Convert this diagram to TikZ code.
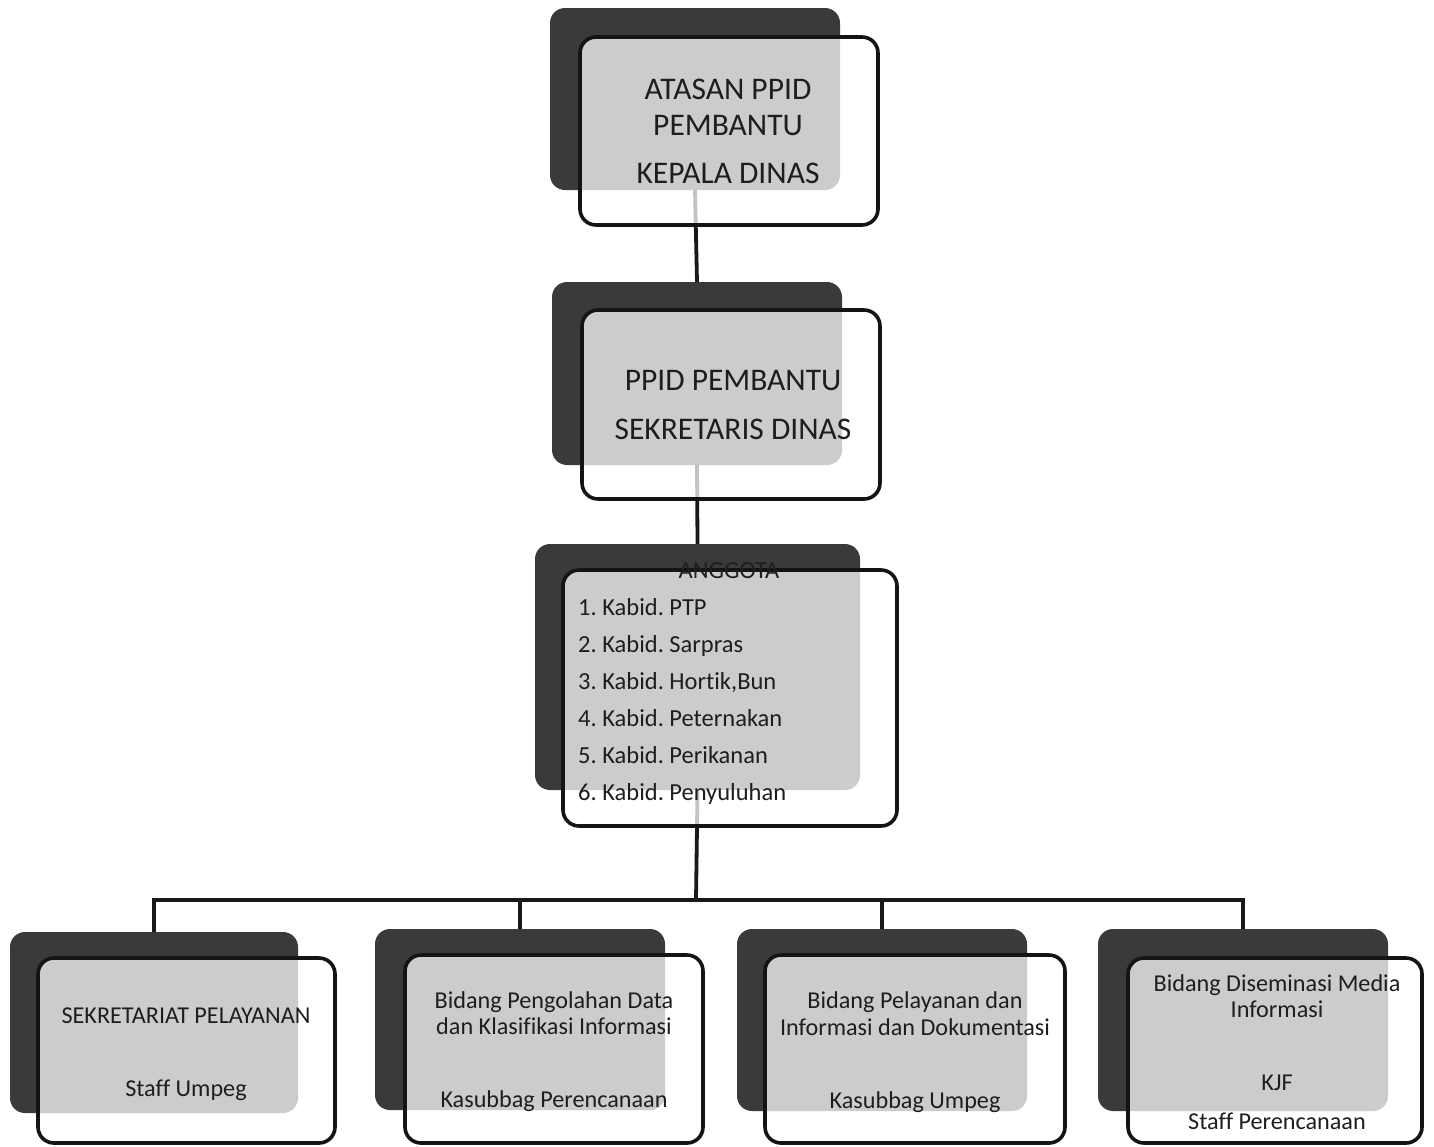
\documentclass[tikz,border=0pt]{standalone}
\usepackage{fontspec}
\setmainfont{Carlito}[Ligatures=NoCommon]
\frenchspacing
\definecolor{darkbox}{HTML}{3A3A3A}
\definecolor{txt}{HTML}{1E1E1E}
\tikzset{
  backbox/.style={draw=none, fill=darkbox, rounded corners=15pt, inner sep=0pt},
  frontbox/.style={draw=black!92, line width=3.6pt, fill=white, fill opacity=0.74, text opacity=1, rounded corners=16pt, inner sep=0pt},
  link/.style={line width=3.8pt, black!90},
  bigtxt/.style={text=txt, align=center, inner sep=0pt, font=\fontsize{31.5}{36}\selectfont},
  listtxt/.style={text=txt, align=left, inner sep=0pt, font=\fontsize{24.5}{37}\selectfont},
  smalltxt/.style={text=txt, align=center, inner sep=0pt, font=\fontsize{24.2}{26.5}\selectfont}
}
\begin{document}
\begin{tikzpicture}[x=1pt, y=-1pt]
\useasboundingbox (0,0) rectangle (1434,1146);
\fill[white] (0,0) rectangle (1434,1146);

% back boxes
\node[backbox, minimum width=290pt, minimum height=182pt] (b1back) at (695,99) {};
\node[backbox, minimum width=290pt, minimum height=183pt] (b2back) at (697,373.5) {};
\node[backbox, minimum width=325pt, minimum height=246pt] (b3back) at (697.5,667) {};
\node[backbox, minimum width=288pt, minimum height=181pt] (c1back) at (154,1022.5) {};
\node[backbox, minimum width=290pt, minimum height=181pt] (c2back) at (520,1019.5) {};
\node[backbox, minimum width=290pt, minimum height=182pt] (c3back) at (882,1020) {};
\node[backbox, minimum width=290pt, minimum height=182pt] (c4back) at (1243,1020) {};

% connectors
\coordinate (bus) at (696,900);
\draw[link] (b1back.south) -- (b2back.north);
\draw[link] (b2back.south) -- (b3back.north);
\draw[link] (b3back.south) -- (bus);
\draw[link] (bus) -| (c1back.north);
\draw[link] (bus) -| (c2back.north);
\draw[link] (bus) -| (c3back.north);
\draw[link] (bus) -| (c4back.north);

% front boxes
\node[frontbox, minimum width=298pt, minimum height=188pt] (b1) at (729,131) {};
\node[frontbox, minimum width=298pt, minimum height=189pt] (b2) at (731,404.5) {};
\node[frontbox, minimum width=334pt, minimum height=256pt] (b3) at (730,698) {};
\node[frontbox, minimum width=297pt, minimum height=185pt] (c1) at (186.5,1050.5) {};
\node[frontbox, minimum width=298pt, minimum height=188pt] (c2) at (554,1049) {};
\node[frontbox, minimum width=300pt, minimum height=188pt] (c3) at (915,1049) {};
\node[frontbox, minimum width=294pt, minimum height=185pt] (c4) at (1275,1050.5) {};

% texts
\node[bigtxt] (t1) at (728,131) {ATASAN PPID\\PEMBANTU\\[12pt]KEPALA DINAS};
\node[bigtxt] (t2) at (733,405) {PPID PEMBANTU\\[13pt]SEKRETARIS DINAS};
\node[listtxt, font=\fontsize{24.5}{26}\selectfont] (t3h) at (729,571) {ANGGOTA};
\node[listtxt, anchor=west] (t3) at (578,701) {1. Kabid. PTP\\2. Kabid. Sarpras\\3. Kabid. Hortik,Bun\\4. Kabid. Peternakan\\5. Kabid. Perikanan\\6. Kabid. Penyuluhan};

\node[smalltxt] (u1) at (186,1016) {SEKRETARIAT PELAYANAN};
\node[smalltxt] (v1) at (186,1090) {Staff Umpeg};
\node[smalltxt] (u2) at (554,1013) {Bidang Pengolahan Data\\dan Klasifikasi Informasi};
\node[smalltxt] (v2) at (554,1101) {Kasubbag Perencanaan};
\node[smalltxt] (u3) at (915,1013.5) {Bidang Pelayanan dan\\Informasi dan Dokumentasi};
\node[smalltxt] (v3) at (915,1102) {Kasubbag Umpeg};
\node[smalltxt] (u4) at (1277,996) {Bidang Diseminasi Media\\Informasi};
\node[smalltxt] (v4) at (1277,1083) {KJF};
\node[smalltxt] (w4) at (1277,1121) {Staff Perencanaan};
\end{tikzpicture}
\end{document}
